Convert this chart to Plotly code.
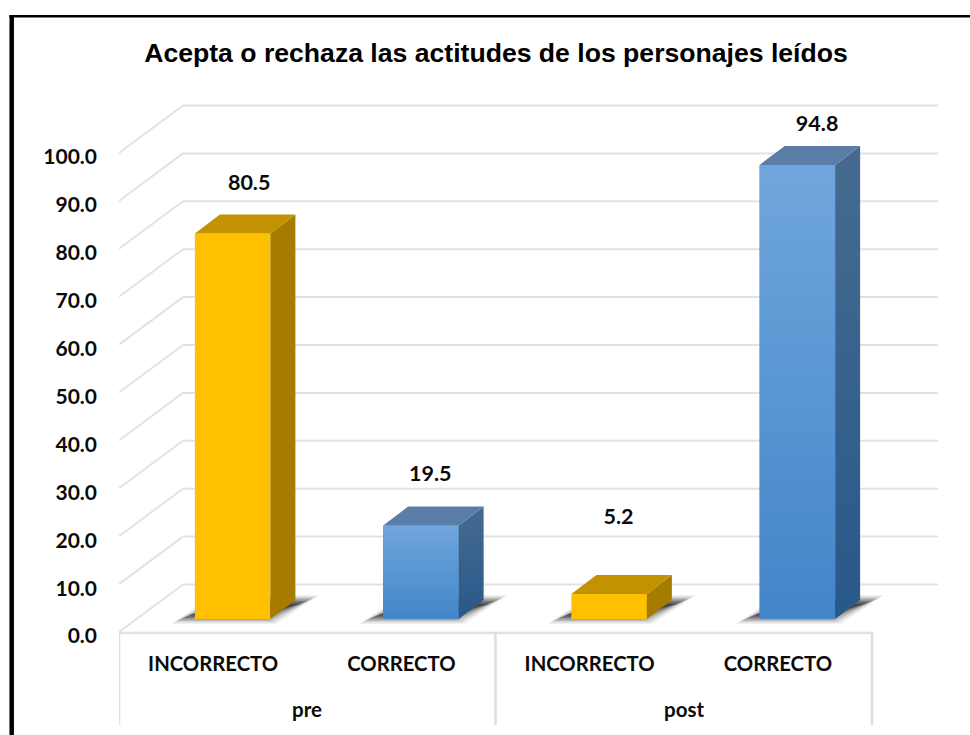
import plotly.graph_objects as go

title = "Acepta o rechaza las actitudes de los personajes leídos"
groups = ["pre", "post"]
categories = ["INCORRECTO", "CORRECTO", "INCORRECTO", "CORRECTO"]
values = [80.5, 19.5, 5.2, 94.8]
labels = ["80.5", "19.5", "5.2", "94.8"]
y_ticks = [0, 10, 20, 30, 40, 50, 60, 70, 80, 90, 100]

label_shift_x = [0.088, 0.05, 0.05, 0.105]
label_lift = [10.1, 10.4, 15.7, 8.2]

YEL_F, YEL_S, YEL_T = "#ffc000", "#a57c00", "#c29200"
BLU_F = ["#4285c8", "#70a6dd"]
BLU_S = ["#28588a", "#466b90"]
BLU_T = "#5a7ea8"
GRID = "#e2e2e2"
INK = "#0a0a0a"

# geometry of the oblique projection, in axis units
W, H = 970, 735
ML, MR, MT, MB = 119, 32, 95, 90
ZERO_PX = 632                        # page row of value 0 on the front edge
UX, UY = 188.25, 4.79                # px per x unit / per value unit
XMAX = (W - ML - MR) / UX
YMIN = (ZERO_PX - (H - MB)) / UY
YMAX = (ZERO_PX - MT) / UY
WALL_X, WALL_Y = 64 / UX, 47.5 / UY  # floor depth
BAR_W = 75.5 / UX
BAR_X, BAR_Y = 25 / UX, 19 / UY      # bar depth
IN_X, IN_Y = 19.5 / UX, 13 / UY      # bar placement on the floor
TICK_NUDGE = 0.85                    # tick text sits slightly under its gridline

centers = [i + 0.5 for i in range(len(values))]
fronts = [c + IN_X for c in centers]

shapes = []

def svg(points):
    return "M " + " L ".join(f"{x:.4f},{y:.4f}" for x, y in points) + " Z"

def px(x):
    return (x - ML) / (W - ML - MR)

def py(y):
    return (H - MB - y) / (H - MT - MB)

# gridlines on the wall and side wall, under the bars
for t in y_ticks:
    shapes.append(dict(type="line", xref="x", yref="y", layer="below",
                       x0=0, y0=t, x1=WALL_X, y1=t + WALL_Y,
                       line=dict(color=GRID, width=2)))
    shapes.append(dict(type="line", xref="x", yref="y", layer="below",
                       x0=WALL_X, y0=t + WALL_Y, x1=XMAX, y1=t + WALL_Y,
                       line=dict(color=GRID, width=2)))

# category frame
shapes.append(dict(type="line", xref="x", yref="y", x0=0, y0=-0.2, x1=4, y1=-0.2,
                   layer="below", line=dict(color=GRID, width=2.5)))
for xv in [0, 2, 4]:
    shapes.append(dict(type="line", xref="x", yref="paper", x0=xv, x1=xv,
                       y0=py(ZERO_PX), y1=py(725),
                       line=dict(color="#dedede", width=2.5)))

# soft floor shadows: a skewed parallelogram, blurred with nested layers
for c in fronts:
    xl, xr = c - BAR_W / 2, c + BAR_W / 2
    for e, o in [(-4, 0.06), (-1, 0.10), (2, 0.14), (5, 0.18), (8, 0.2), (11, 0.22), (14, 0.22)]:
        low, high = IN_Y - (3 - e * 0.5) / UY, IN_Y + (22 - e * 0.5) / UY
        skew = 43 / UX
        pts = [(xl - (20 - e) / UX, low), (xr + (2 - e) / UX, low),
               (xr + (2 - e) / UX + skew, high), (xl - (20 - e) / UX + skew, high)]
        shapes.append(dict(type="path", path=svg(pts), xref="x", yref="y",
                           layer="below", line=dict(width=0),
                           fillcolor="#000000", opacity=o))

# page frame
for x0, y0, x1, y1, w in [(11.7, 15, 11.7, 735, 4.5), (9.5, 16.3, 970, 16.3, 2.5)]:
    shapes.append(dict(type="line", xref="paper", yref="paper",
                       x0=px(x0), y0=py(y0), x1=px(x1), y1=py(y1),
                       line=dict(color="#000000", width=w)))

fig = go.Figure()

is_blue = [c == "CORRECTO" for c in categories]
fig.add_trace(go.Bar(x=fronts, y=values, base=[IN_Y] * 4, width=BAR_W,
                     marker=dict(color=[BLU_F[0] if b else YEL_F for b in is_blue],
                                 line=dict(width=0)),
                     hoverinfo="skip", showlegend=False))

for c, v, b in zip(fronts, values, is_blue):
    xl, xr = c - BAR_W / 2, c + BAR_W / 2
    y0, y1 = IN_Y, IN_Y + v
    side = dict(x=[xr, xr + BAR_X, xr + BAR_X, xr, xr],
                y=[y0, y0 + BAR_Y, y1 + BAR_Y, y1, y0])
    top = dict(x=[xl, xl + BAR_X, xr + BAR_X, xr, xl],
               y=[y1, y1 + BAR_Y, y1 + BAR_Y, y1, y1])
    common = dict(mode="lines", fill="toself", line=dict(width=0),
                  hoverinfo="skip", showlegend=False)
    if b:
        fig.add_trace(go.Scatter(x=[xl, xr, xr, xl, xl], y=[y0, y0, y1, y1, y0],
                                 fillgradient=dict(type="vertical",
                                                   colorscale=[[0, BLU_F[0]], [1, BLU_F[1]]]),
                                 **common))
        fig.add_trace(go.Scatter(fillgradient=dict(type="vertical",
                                                   colorscale=[[0, BLU_S[0]], [1, BLU_S[1]]]),
                                 **side, **common))
        fig.add_trace(go.Scatter(fillcolor=BLU_T, **top, **common))
    else:
        fig.add_trace(go.Scatter(fillcolor=YEL_S, **side, **common))
        fig.add_trace(go.Scatter(fillcolor=YEL_T, **top, **common))

fig.add_trace(go.Scatter(
    x=[c + s for c, s in zip(fronts, label_shift_x)],
    y=[IN_Y + v + l for v, l in zip(values, label_lift)],
    mode="text", text=labels, textposition="middle center", cliponaxis=False,
    textfont=dict(family="Lato", size=21.5, color=INK, weight="bold"),
    hoverinfo="skip", showlegend=False))

annotations = [dict(x=x, y=py(709), xref="x", yref="paper", text=f"<b>{g}</b>",
                    showarrow=False, xanchor="center", yanchor="middle",
                    font=dict(family="Lato", size=20.5, color=INK))
               for g, x in zip(groups, [1, 3])]

fig.update_layout(
    width=W, height=H, autosize=False,
    margin=dict(l=ML, r=MR, t=MT, b=MB, pad=0),
    paper_bgcolor="white", plot_bgcolor="rgba(0,0,0,0)",
    showlegend=False, shapes=shapes, annotations=annotations,
    title=dict(text=f"<b>{title}</b>", x=496 / W, xanchor="center",
               y=1 - 53 / H, yanchor="middle",
               font=dict(family="Liberation Sans", size=26.6, color="#000000")),
    xaxis=dict(range=[0, XMAX], tickmode="array", tickvals=centers, ticktext=categories,
               showgrid=False, zeroline=False, showline=False, ticks="",
               ticklabelstandoff=5, automargin=False,
               tickfont=dict(family="Lato", size=20.3, color=INK, weight="bold")),
    yaxis=dict(range=[YMIN, YMAX], tickmode="array",
               tickvals=[t - TICK_NUDGE for t in y_ticks],
               ticktext=[f"{t:.1f}" for t in y_ticks],
               showgrid=False, zeroline=False, showline=False, ticks="",
               ticklabelstandoff=21, automargin=False,
               tickfont=dict(family="Lato", size=21, color=INK, weight="bold")),
)

fig.write_html("out.html", config={"displayModeBar": False},
               post_script="document.body.style.margin='0';")
